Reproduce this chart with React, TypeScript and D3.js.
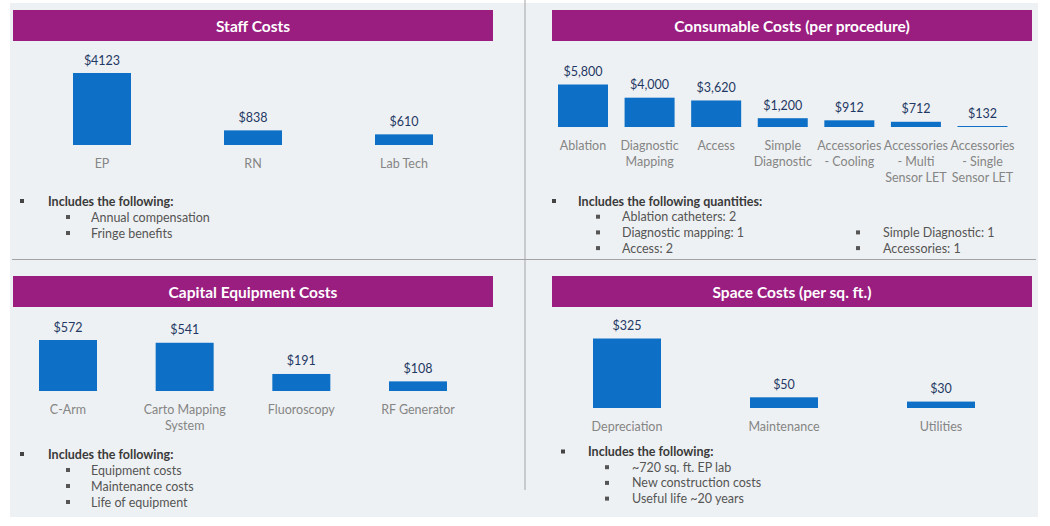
import React from "react";
import * as d3 from "d3";

// ---------- data ----------
const staffCats = ["EP", "RN", "Lab Tech"];
const staffValues = [4123, 838, 610];
const staffLabels = ["$4123", "$838", "$610"];

const consCats = [
  "Ablation",
  "Diagnostic|Mapping",
  "Access",
  "Simple|Diagnostic",
  "Accessories|- Cooling",
  "Accessories|- Multi|Sensor LET",
  "Accessories|- Single|Sensor LET",
];
const consValues = [5800, 4000, 3620, 1200, 912, 712, 132];
const consLabels = ["$5,800", "$4,000", "$3,620", "$1,200", "$912", "$712", "$132"];

const capCats = ["C-Arm", "Carto Mapping|System", "Fluoroscopy", "RF Generator"];
const capValues = [572, 541, 191, 108];
const capLabels = ["$572", "$541", "$191", "$108"];

const spaceCats = ["Depreciation", "Maintenance", "Utilities"];
const spaceValues = [325, 50, 30];
const spaceLabels = ["$325", "$50", "$30"];

const titles = [
  "Staff Costs",
  "Consumable Costs (per procedure)",
  "Capital Equipment Costs",
  "Space Costs (per sq. ft.)",
];

const staffNotes = ["Annual compensation", "Fringe benefits"];
const consNotesLeft = ["Ablation catheters: 2", "Diagnostic mapping: 1", "Access: 2"];
const consNotesRight = ["Simple Diagnostic: 1", "Accessories: 1"];
const capNotes = ["Equipment costs", "Maintenance costs", "Life of equipment"];
const spaceNotes = ["~720 sq. ft. EP lab", "New construction costs", "Useful life ~20 years"];

// ---------- style ----------
const FONT = "Lato, 'Open Sans', sans-serif";
const PURPLE = "#9A1D80";
const BAR = "#0D70C6";
const VAL = "#1F3864";
const CAT = "#858585";
const TXT = "#3A3A3A";
const SUB = "#555555";

type PanelDef = {
  cats: string[];
  values: number[];
  labels: string[];
  x0: number;
  x1: number;
  barW: number;
  base: number;
  top: number;
};

const panels: PanelDef[] = [
  { cats: staffCats, values: staffValues, labels: staffLabels, x0: 102, x1: 404, barW: 58, base: 145, top: 73 },
  { cats: consCats, values: consValues, labels: consLabels, x0: 583, x1: 982.5, barW: 50, base: 127, top: 84.5 },
  { cats: capCats, values: capValues, labels: capLabels, x0: 68, x1: 418, barW: 58, base: 391, top: 340 },
  { cats: spaceCats, values: spaceValues, labels: spaceLabels, x0: 627, x1: 941, barW: 68, base: 408, top: 338.5 },
];

function Bars({ p }: { p: PanelDef }) {
  const x = d3.scalePoint<string>().domain(p.cats).range([p.x0, p.x1]);
  const y = d3.scaleLinear().domain([0, d3.max(p.values) as number]).range([p.base, p.top]);
  return (
    <g>
      {p.cats.map((c, i) => {
        const cx = x(c) as number;
        const yt = y(p.values[i]);
        const h = Math.max(1, p.base - yt);
        const lines = c.split("|");
        return (
          <g key={c}>
            <rect x={cx - p.barW / 2} y={p.base - h} width={p.barW} height={h} fill={BAR} />
            <text
              x={cx}
              y={p.base - h - 13}
              textAnchor="middle"
              dominantBaseline="central"
              fontSize={12.5}
              fill={VAL}
              fontFamily={FONT}
            >
              {p.labels[i]}
            </text>
            {lines.map((l, j) => (
              <text
                key={j}
                x={cx}
                y={p.base + 18 + j * 16}
                textAnchor="middle"
                dominantBaseline="central"
                fontSize={12.5}
                fill={CAT}
                fontFamily={FONT}
              >
                {l}
              </text>
            ))}
          </g>
        );
      })}
    </g>
  );
}

function Header({ x, y, w, title }: { x: number; y: number; w: number; title: string }) {
  return (
    <g>
      <rect x={x} y={y} width={w} height={31} fill={PURPLE} />
      <text
        x={x + w / 2}
        y={y + 16}
        textAnchor="middle"
        dominantBaseline="central"
        fontSize={15.5}
        fontWeight="bold"
        fill="#ffffff"
        fontFamily={FONT}
      >
        {title}
      </text>
    </g>
  );
}

function Notes({
  bx,
  tx,
  y,
  head,
  sbx,
  stx,
  items,
  step,
}: {
  bx: number;
  tx: number;
  y: number;
  head: string | null;
  sbx: number;
  stx: number;
  items: string[];
  step: number;
}) {
  return (
    <g fontFamily={FONT}>
      {head && (
        <g>
          <rect x={bx - 2} y={y - 2} width={4} height={4} fill="#444" />
          <text x={tx} y={y} dominantBaseline="central" fontSize={12.5} fontWeight="bold" fill={TXT}>
            {head}
          </text>
        </g>
      )}
      {items.map((it, i) => {
        const yy = y + (head ? step : 0) + i * step;
        return (
          <g key={it}>
            <rect x={sbx - 2} y={yy - 2} width={4} height={4} fill="#555" />
            <text x={stx} y={yy} dominantBaseline="central" fontSize={12.5} fill={SUB}>
              {it}
            </text>
          </g>
        );
      })}
    </g>
  );
}

export default function App() {
  return (
    <svg
      width={1050}
      height={526}
      style={{ position: "absolute", left: 0, top: 0, background: "#ffffff" }}
    >
      <rect x={10} y={3} width={1028} height={514} fill="#EEF1F3" />
      <line x1={525} y1={0} x2={525} y2={490} stroke="#A3A3A3" strokeWidth={1} />
      <line x1={12} y1={259.5} x2={1036} y2={259.5} stroke="#A3A3A3" strokeWidth={1} />

      <Header x={13} y={10} w={480} title={titles[0]} />
      <Header x={552} y={10} w={480} title={titles[1]} />
      <Header x={13} y={276} w={480} title={titles[2]} />
      <Header x={552} y={276} w={480} title={titles[3]} />

      {panels.map((p, i) => (
        <Bars key={i} p={p} />
      ))}

      <Notes bx={22} tx={48} y={201} head="Includes the following:" sbx={68} stx={91} items={staffNotes} step={16} />
      <Notes
        bx={554}
        tx={578}
        y={201}
        head="Includes the following quantities:"
        sbx={598}
        stx={622}
        items={consNotesLeft}
        step={15.7}
      />
      <Notes bx={0} tx={0} y={232.4} head={null} sbx={858} stx={883} items={consNotesRight} step={15.7} />
      <Notes bx={22} tx={48} y={454} head="Includes the following:" sbx={68} stx={91} items={capNotes} step={16} />
      <Notes
        bx={563}
        tx={588}
        y={451.5}
        head="Includes the following:"
        sbx={607}
        stx={632}
        items={spaceNotes}
        step={15.7}
      />
    </svg>
  );
}
